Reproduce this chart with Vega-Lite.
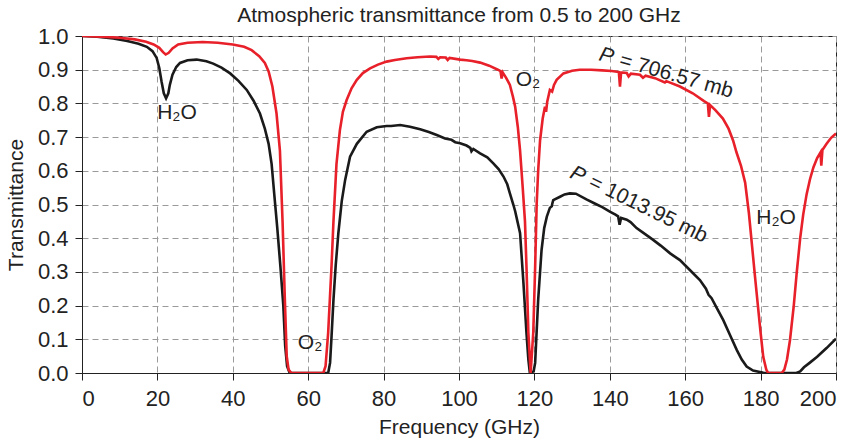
{
  "$schema": "https://vega.github.io/schema/vega-lite/v6.json",
  "width": 754,
  "height": 337,
  "autosize": "none",
  "padding": {"left": 82, "top": 36, "right": 23, "bottom": 67},
  "background": "white",
  "title": {"text": "Atmospheric transmittance from 0.5 to 200 GHz", "fontSize": 21, "fontWeight": "normal", "font": "Liberation Sans", "color": "#222", "anchor": "middle", "offset": -1},
  "config": {
    "font": "Liberation Sans",
    "view": {"stroke": "#222", "strokeWidth": 1},
    "axis": {
      "domainColor": "#222", "tickColor": "#222", "tickSize": 7,
      "labelFont": "Liberation Sans", "labelFontSize": 22, "labelColor": "#222", "labelOverlap": false,
      "titleFont": "Liberation Sans", "titleFontSize": 21, "titleFontWeight": "normal", "titleColor": "#222",
      "gridColor": "#9a9a9a", "gridDash": [6, 4], "gridWidth": 1
    }
  },
  "datasets": {
    "black": [
      {"f": 0, "T": 1.0}, {"f": 4, "T": 0.998}, {"f": 8.3, "T": 0.993}, {"f": 12, "T": 0.985}, {"f": 15, "T": 0.977},
      {"f": 17.2, "T": 0.968}, {"f": 18.7, "T": 0.955}, {"f": 19.8, "T": 0.935}, {"f": 20.5, "T": 0.905}, {"f": 21.1, "T": 0.865},
      {"f": 21.7, "T": 0.83}, {"f": 22.3, "T": 0.815}, {"f": 22.9, "T": 0.83}, {"f": 23.3, "T": 0.855}, {"f": 24, "T": 0.885},
      {"f": 25, "T": 0.908}, {"f": 26, "T": 0.92}, {"f": 28, "T": 0.928}, {"f": 30.4, "T": 0.93}, {"f": 33, "T": 0.925},
      {"f": 34.8, "T": 0.918}, {"f": 37, "T": 0.906}, {"f": 39.3, "T": 0.889}, {"f": 41.5, "T": 0.867}, {"f": 43.7, "T": 0.84},
      {"f": 45.5, "T": 0.808}, {"f": 47.2, "T": 0.77}, {"f": 48.5, "T": 0.725}, {"f": 49.5, "T": 0.68}, {"f": 50.3, "T": 0.62},
      {"f": 51, "T": 0.53}, {"f": 51.8, "T": 0.43}, {"f": 52.6, "T": 0.32}, {"f": 53.4, "T": 0.2}, {"f": 53.9, "T": 0.08},
      {"f": 54.4, "T": 0.02}, {"f": 55, "T": 0.003}, {"f": 55.5, "T": 0}, {"f": 65.3, "T": 0}, {"f": 65.8, "T": 0.03},
      {"f": 66.2, "T": 0.11}, {"f": 66.7, "T": 0.217}, {"f": 67.3, "T": 0.32}, {"f": 68, "T": 0.415}, {"f": 68.9, "T": 0.51},
      {"f": 69.8, "T": 0.573}, {"f": 71.1, "T": 0.642}, {"f": 72.9, "T": 0.68}, {"f": 75.5, "T": 0.716}, {"f": 78.2, "T": 0.729},
      {"f": 80.8, "T": 0.733}, {"f": 82, "T": 0.733}, {"f": 84.4, "T": 0.736}, {"f": 87, "T": 0.731}, {"f": 89.7, "T": 0.723},
      {"f": 92, "T": 0.715}, {"f": 94.1, "T": 0.706}, {"f": 96.3, "T": 0.696}, {"f": 98, "T": 0.692}, {"f": 99, "T": 0.685},
      {"f": 100.3, "T": 0.682}, {"f": 102, "T": 0.675}, {"f": 103, "T": 0.668}, {"f": 103.3, "T": 0.658}, {"f": 103.8, "T": 0.665},
      {"f": 105.6, "T": 0.652}, {"f": 107.5, "T": 0.64}, {"f": 109.1, "T": 0.622}, {"f": 110.5, "T": 0.605}, {"f": 111.8, "T": 0.583},
      {"f": 112.8, "T": 0.56}, {"f": 113.5, "T": 0.533}, {"f": 114.4, "T": 0.5}, {"f": 114.9, "T": 0.48}, {"f": 115.5, "T": 0.45},
      {"f": 116.2, "T": 0.415}, {"f": 117.1, "T": 0.266}, {"f": 117.9, "T": 0.118}, {"f": 118.4, "T": 0.04}, {"f": 118.8, "T": 0.0},
      {"f": 119.8, "T": 0.005}, {"f": 120.2, "T": 0.03}, {"f": 121, "T": 0.217}, {"f": 121.9, "T": 0.365}, {"f": 122.6, "T": 0.43},
      {"f": 123.3, "T": 0.464}, {"f": 124.1, "T": 0.49}, {"f": 124.6, "T": 0.495}, {"f": 124.8, "T": 0.505}, {"f": 125, "T": 0.513},
      {"f": 126.8, "T": 0.523}, {"f": 128, "T": 0.53}, {"f": 129.4, "T": 0.533}, {"f": 131, "T": 0.532}, {"f": 133.8, "T": 0.515},
      {"f": 136, "T": 0.503}, {"f": 138, "T": 0.492}, {"f": 140, "T": 0.479}, {"f": 141.5, "T": 0.47}, {"f": 142.2, "T": 0.465},
      {"f": 142.6, "T": 0.44}, {"f": 143, "T": 0.46}, {"f": 144.5, "T": 0.455}, {"f": 145.5, "T": 0.448}, {"f": 147.1, "T": 0.43},
      {"f": 149, "T": 0.415}, {"f": 151.5, "T": 0.395}, {"f": 153.5, "T": 0.378}, {"f": 156, "T": 0.355}, {"f": 158.6, "T": 0.335},
      {"f": 161.3, "T": 0.305}, {"f": 163.9, "T": 0.276}, {"f": 165.5, "T": 0.25}, {"f": 166.2, "T": 0.232}, {"f": 167, "T": 0.222},
      {"f": 168.5, "T": 0.19}, {"f": 170.1, "T": 0.157}, {"f": 172, "T": 0.11}, {"f": 173.7, "T": 0.068}, {"f": 175, "T": 0.04},
      {"f": 176.3, "T": 0.019}, {"f": 178, "T": 0.007}, {"f": 179.8, "T": 0.003}, {"f": 181, "T": 0}, {"f": 189.5, "T": 0},
      {"f": 190.5, "T": 0.005}, {"f": 191.5, "T": 0.017}, {"f": 193, "T": 0.03}, {"f": 195, "T": 0.048}, {"f": 197.5, "T": 0.074},
      {"f": 200, "T": 0.102}
    ],
    "red": [
      {"f": 0, "T": 1.0}, {"f": 5, "T": 0.998}, {"f": 10, "T": 0.995}, {"f": 14, "T": 0.99}, {"f": 17, "T": 0.983},
      {"f": 19, "T": 0.975}, {"f": 20.5, "T": 0.965}, {"f": 21.5, "T": 0.952}, {"f": 22.2, "T": 0.945}, {"f": 23, "T": 0.95},
      {"f": 24, "T": 0.963}, {"f": 25.5, "T": 0.975}, {"f": 28, "T": 0.98}, {"f": 32, "T": 0.982}, {"f": 36, "T": 0.98},
      {"f": 40, "T": 0.975}, {"f": 43, "T": 0.968}, {"f": 45, "T": 0.958}, {"f": 47, "T": 0.94}, {"f": 48.5, "T": 0.92},
      {"f": 49.5, "T": 0.895}, {"f": 50.5, "T": 0.85}, {"f": 51.6, "T": 0.77}, {"f": 52.5, "T": 0.66}, {"f": 53.2, "T": 0.45},
      {"f": 53.8, "T": 0.22}, {"f": 54.3, "T": 0.05}, {"f": 54.8, "T": 0.01}, {"f": 55.5, "T": 0.0}, {"f": 64, "T": 0.0},
      {"f": 64.6, "T": 0.02}, {"f": 65.3, "T": 0.12}, {"f": 66.2, "T": 0.32}, {"f": 66.7, "T": 0.45}, {"f": 67.5, "T": 0.62},
      {"f": 68.4, "T": 0.72}, {"f": 69.2, "T": 0.775}, {"f": 70.2, "T": 0.81}, {"f": 71.5, "T": 0.845}, {"f": 72.9, "T": 0.87},
      {"f": 74.5, "T": 0.89}, {"f": 76.4, "T": 0.904}, {"f": 78.5, "T": 0.915}, {"f": 80.8, "T": 0.924}, {"f": 83, "T": 0.929},
      {"f": 86.1, "T": 0.934}, {"f": 89, "T": 0.937}, {"f": 92.3, "T": 0.939}, {"f": 94, "T": 0.938}, {"f": 94.5, "T": 0.932},
      {"f": 95, "T": 0.937}, {"f": 96.5, "T": 0.936}, {"f": 97, "T": 0.929}, {"f": 97.5, "T": 0.935}, {"f": 100.3, "T": 0.93},
      {"f": 102, "T": 0.928}, {"f": 103.5, "T": 0.926}, {"f": 105.6, "T": 0.921}, {"f": 108, "T": 0.912}, {"f": 110.3, "T": 0.9},
      {"f": 111, "T": 0.896}, {"f": 111.3, "T": 0.874}, {"f": 111.6, "T": 0.892}, {"f": 112.5, "T": 0.876}, {"f": 113.5, "T": 0.855},
      {"f": 114.3, "T": 0.82}, {"f": 114.9, "T": 0.79}, {"f": 115.6, "T": 0.73}, {"f": 116.2, "T": 0.66}, {"f": 116.9, "T": 0.55},
      {"f": 117.5, "T": 0.45}, {"f": 117.9, "T": 0.315}, {"f": 118.4, "T": 0.12}, {"f": 119.0, "T": 0.0}, {"f": 119.7, "T": 0.12},
      {"f": 120.2, "T": 0.315}, {"f": 120.6, "T": 0.5}, {"f": 121.0, "T": 0.6}, {"f": 121.5, "T": 0.69}, {"f": 122.2, "T": 0.755},
      {"f": 122.8, "T": 0.79}, {"f": 123.1, "T": 0.775}, {"f": 123.4, "T": 0.805}, {"f": 124.1, "T": 0.84}, {"f": 124.7, "T": 0.835},
      {"f": 125.2, "T": 0.855}, {"f": 125.9, "T": 0.87}, {"f": 127.7, "T": 0.889}, {"f": 130, "T": 0.897}, {"f": 132, "T": 0.9},
      {"f": 135, "T": 0.9}, {"f": 138, "T": 0.898}, {"f": 140.5, "T": 0.896}, {"f": 142.4, "T": 0.893}, {"f": 142.7, "T": 0.85},
      {"f": 143.0, "T": 0.892}, {"f": 144.5, "T": 0.89}, {"f": 145.0, "T": 0.88}, {"f": 145.6, "T": 0.888}, {"f": 148, "T": 0.885},
      {"f": 148.8, "T": 0.876}, {"f": 149.5, "T": 0.882}, {"f": 152, "T": 0.875}, {"f": 154.6, "T": 0.862}, {"f": 155, "T": 0.866},
      {"f": 158.6, "T": 0.85}, {"f": 162, "T": 0.83}, {"f": 165, "T": 0.807}, {"f": 166.0, "T": 0.8}, {"f": 166.3, "T": 0.76},
      {"f": 166.6, "T": 0.795}, {"f": 168, "T": 0.78}, {"f": 170, "T": 0.755}, {"f": 171.5, "T": 0.725}, {"f": 172.7, "T": 0.69},
      {"f": 173.6, "T": 0.655}, {"f": 174.8, "T": 0.615}, {"f": 175.9, "T": 0.565}, {"f": 176.9, "T": 0.474}, {"f": 178.6, "T": 0.276},
      {"f": 180, "T": 0.12}, {"f": 180.7, "T": 0.048}, {"f": 181.5, "T": 0.01}, {"f": 182, "T": 0.0}, {"f": 185.6, "T": 0.0},
      {"f": 186.3, "T": 0.01}, {"f": 187, "T": 0.04}, {"f": 187.8, "T": 0.098}, {"f": 188.8, "T": 0.2}, {"f": 189.6, "T": 0.3},
      {"f": 190.5, "T": 0.4}, {"f": 191.3, "T": 0.47}, {"f": 192.2, "T": 0.53}, {"f": 193.1, "T": 0.575}, {"f": 194, "T": 0.61},
      {"f": 195, "T": 0.638}, {"f": 195.9, "T": 0.655}, {"f": 196.1, "T": 0.615}, {"f": 196.4, "T": 0.662}, {"f": 197.5, "T": 0.68},
      {"f": 198.7, "T": 0.698}, {"f": 200, "T": 0.711}
    ],
    "labels": [
      {"f": 25.2, "T": 0.772, "label": "H₂O"},
      {"f": 60.5, "T": 0.089, "label": "O₂"},
      {"f": 118.3, "T": 0.87, "label": "O₂"},
      {"f": 184.1, "T": 0.46, "label": "H₂O"}
    ],
    "pname": [
      {"f": 136.9, "T": 0.929, "label": "P"},
      {"f": 129.1, "T": 0.581, "label": "P"}
    ],
    "pval": [
      {"f": 136.9, "T": 0.929, "label": "= 706.57 mb"},
      {"f": 129.1, "T": 0.581, "label": "= 1013.95 mb"}
    ]
  },
  "encoding": {
    "x": {"field": "f", "type": "quantitative", "scale": {"domain": [0, 200], "nice": false, "zero": false},
          "axis": {"title": "Frequency (GHz)", "values": [0, 20, 40, 60, 80, 100, 120, 140, 160, 180, 200], "tickCount": 25, "labelPadding": 8, "titlePadding": 7}},
    "y": {"field": "T", "type": "quantitative", "scale": {"domain": [0, 1], "nice": false},
          "axis": {"title": "Transmittance", "values": [0, 0.1, 0.2, 0.3, 0.4, 0.5, 0.6, 0.7, 0.8, 0.9, 1.0], "tickCount": 20, "format": ".1f", "labelPadding": 7, "titlePadding": 11}}
  },
  "layer": [
    {
      "data": {"name": "black"},
      "mark": {"type": "line", "color": "#1a1a1a", "strokeWidth": 2.6, "clip": true}
    },
    {
      "data": {"name": "red"},
      "mark": {"type": "line", "color": "#e8202a", "strokeWidth": 2.6, "clip": true}
    },
    {
      "data": {"name": "labels"},
      "mark": {"type": "text", "fontSize": 21, "color": "#222", "align": "center", "baseline": "middle"},
      "encoding": {"text": {"field": "label"}}
    },
    {
      "data": {"name": "pname"},
      "mark": {"type": "text", "fontSize": 21, "fontStyle": "italic", "color": "#222", "align": "left", "baseline": "alphabetic"},
      "encoding": {
        "text": {"field": "label"},
        "angle": {"condition": {"test": "datum.T < 0.7", "value": 26}, "value": 16}
      }
    },
    {
      "data": {"name": "pval"},
      "mark": {"type": "text", "fontSize": 21, "color": "#222", "align": "left", "baseline": "alphabetic", "dx": 21},
      "encoding": {
        "text": {"field": "label"},
        "angle": {"condition": {"test": "datum.T < 0.7", "value": 26}, "value": 16}
      }
    }
  ]
}
